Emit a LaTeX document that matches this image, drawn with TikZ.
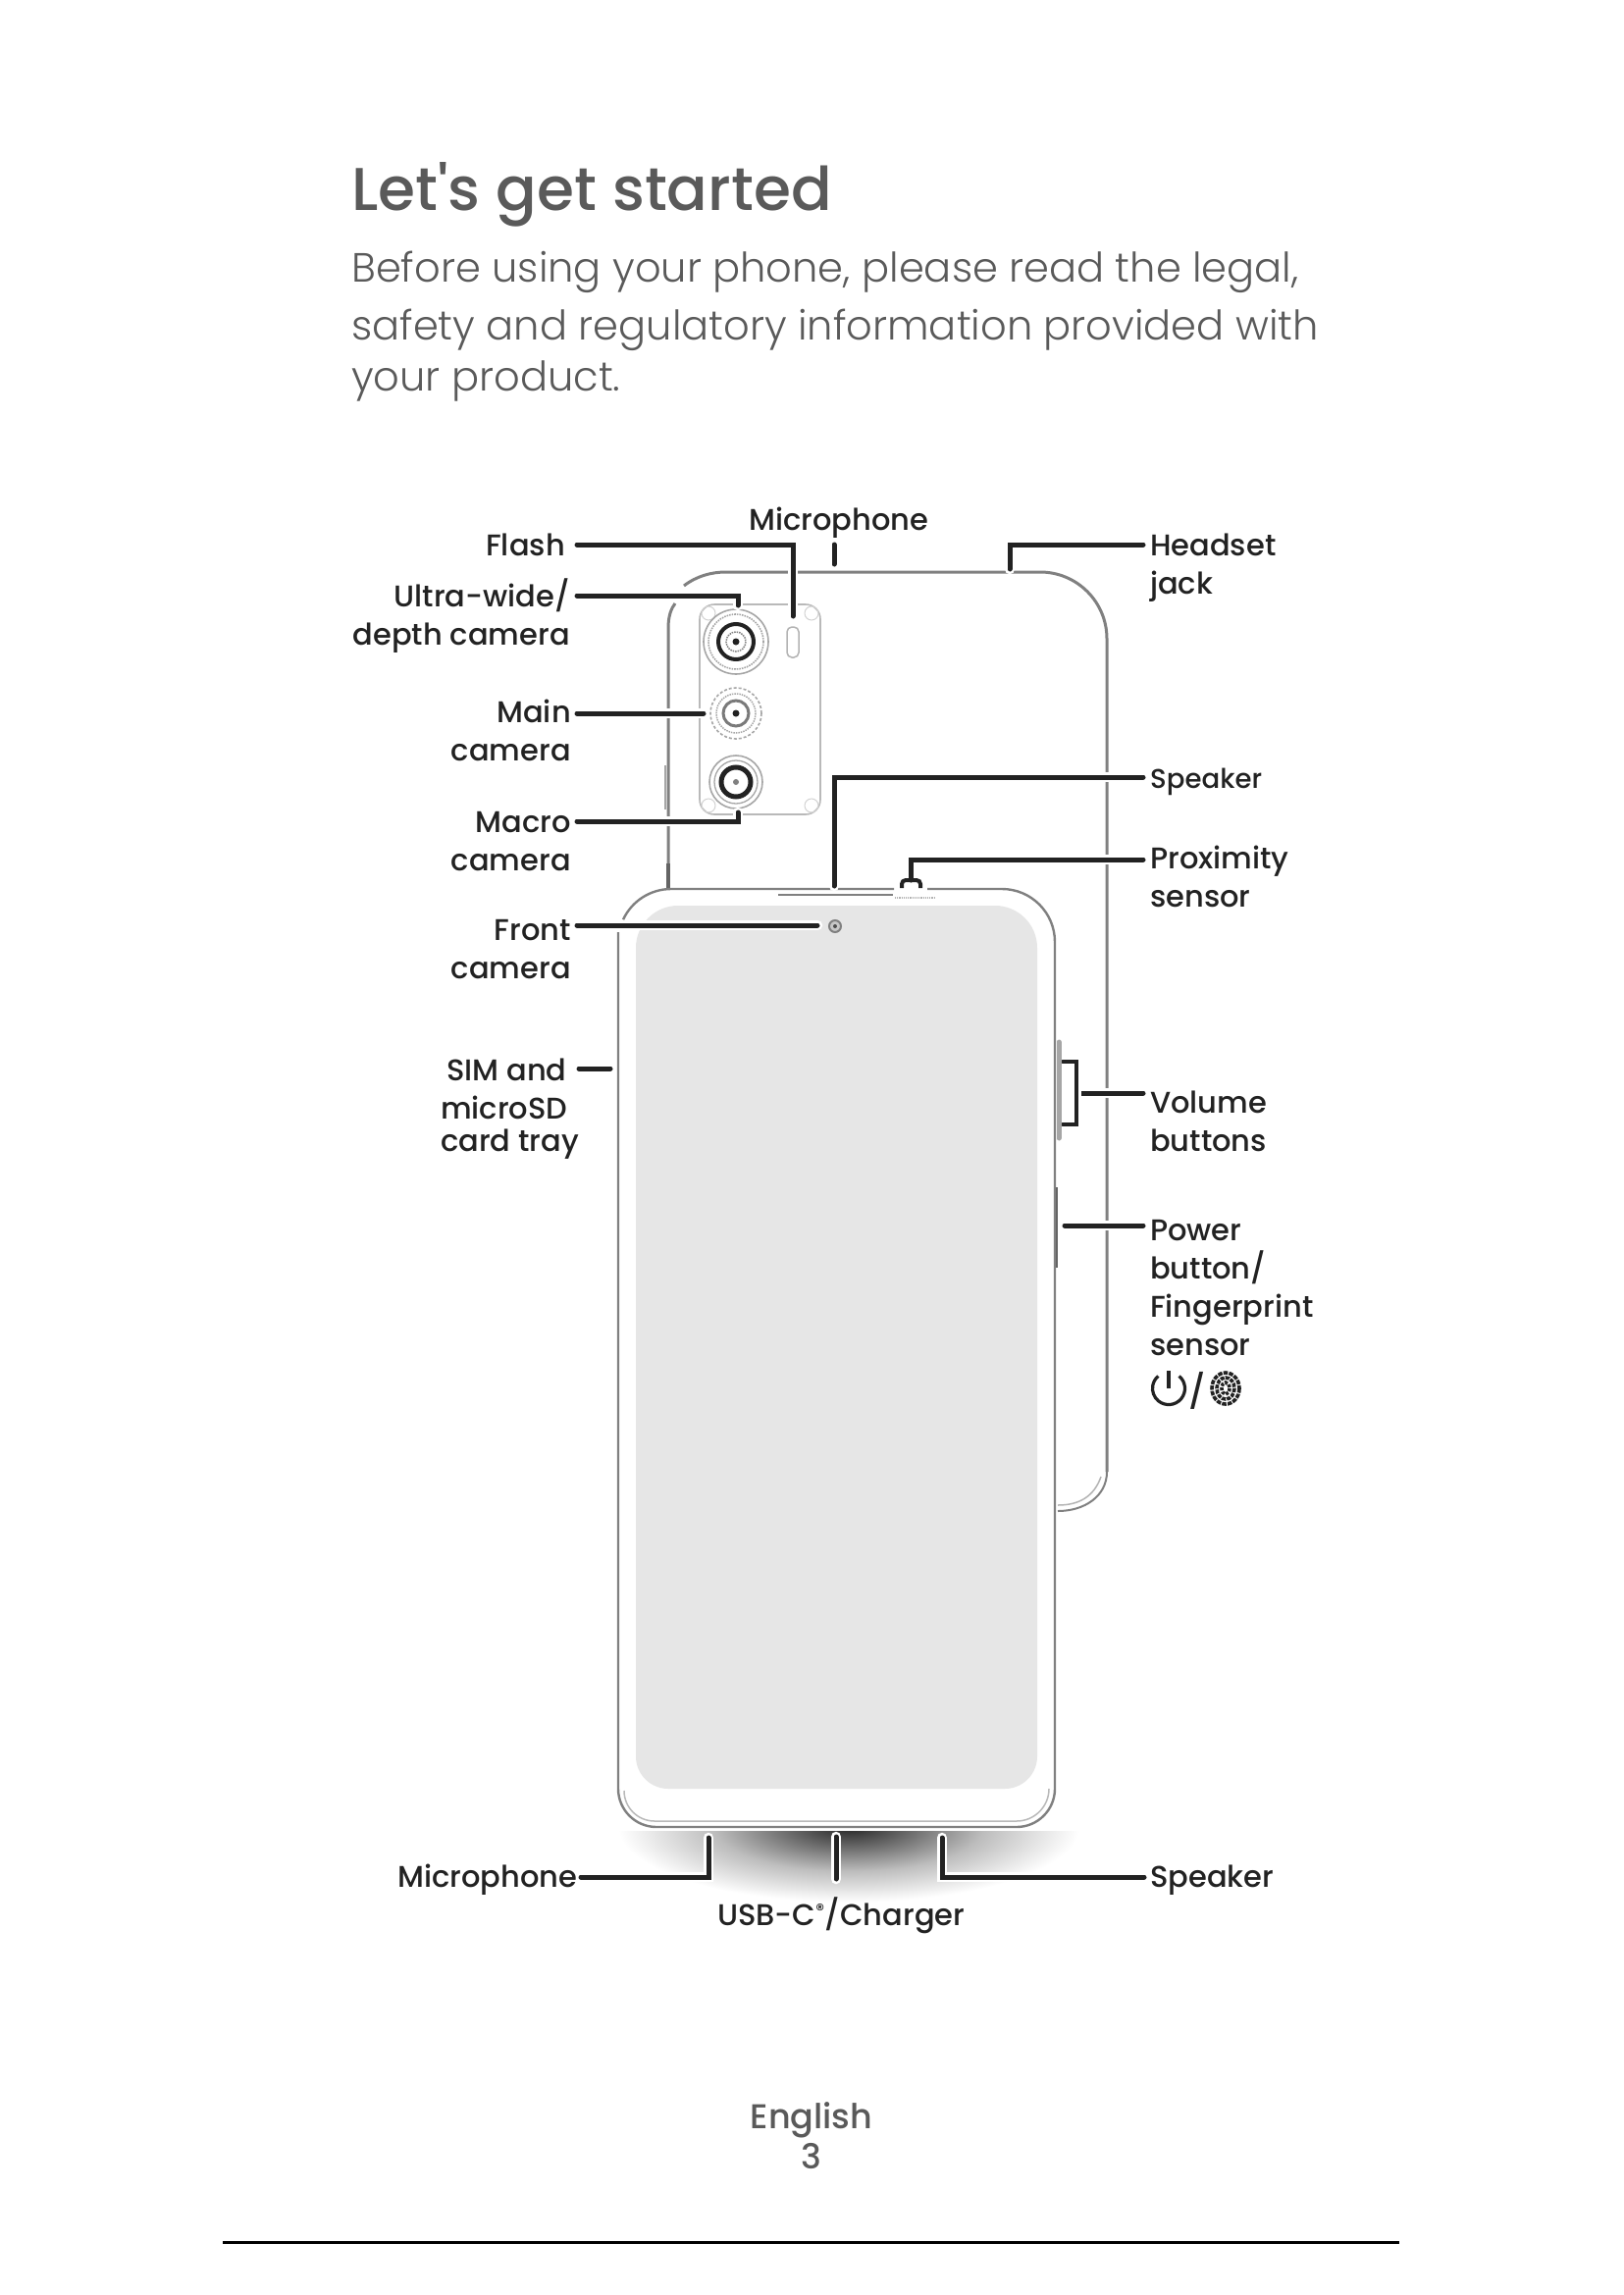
\documentclass[tikz,border=0pt]{standalone}
\usepackage{fontspec}
\setmainfont{Poppins Medium}
\newfontfamily\lightfont{Poppins Light}
\newfontfamily\medfont{Poppins Medium}
\usetikzlibrary{calc}
\definecolor{ink}{HTML}{222222}
\definecolor{soft}{HTML}{5A5A5A}
\definecolor{edge}{HTML}{808080}
\definecolor{panel}{HTML}{E6E6E6}
\pgfdeclareradialshading{glow}{\pgfpointorigin}{color(0bp)=(black!85);color(6bp)=(black!60);color(14bp)=(black!26);color(24bp)=(white);color(50bp)=(white)}
\tikzset{
 conn/.style={ink,line width=5pt,line cap=round,line join=miter,preaction={draw=white,line width=10.5pt,line cap=round}},
 outline/.style={edge,line width=3pt},
 thin line/.style={edge!70,line width=1.6pt},
 lab/.style={font=\fontsize{30.5}{39}\selectfont,text=ink,inner sep=0pt},
 ll/.style={lab,anchor=base east,align=right},
 rl/.style={lab,anchor=base west,align=left},
}
\begin{document}
\begin{tikzpicture}[x=1pt,y=-1pt]
\useasboundingbox (0,0) rectangle (1654,2339);
% heading
\node[anchor=base west,inner sep=0,font=\medfont\fontsize{61.5}{70}\selectfont,text=soft] (title) at (358,214) {Let's get started};
\node[anchor=base west,inner sep=0,align=left,font=\lightfont\fontsize{41.6}{52}\selectfont,text=soft] (intro) at (358,398) {Before using your phone, please read the legal,\\[7pt]safety and regulatory information provided with\\your product.};
% shadow
\begin{scope}
\clip (500,1866) rectangle (1230,1940);
\shade[shading=glow] (865,1862) ellipse [x radius=245,y radius=80];
\end{scope}
% back of phone
\draw[outline] (681,906) -- (681,640) .. controls (681,628) and (684,620) .. (688,615);
\draw[outline] (697,597) .. controls (710,587) and (725,583) .. (740,583) -- (1060,583) arc[start angle=-90,end angle=0,radius=68] -- (1128,1500);
\draw[edge,line width=2pt] (1128,1500) .. controls (1128,1525) and (1105,1540) .. (1078,1540);
\draw[edge!60,line width=1.5pt] (1122,1505) .. controls (1115,1525) and (1100,1534) .. (1078,1534);
\draw[ink!70,line width=4pt] (681,880) -- (681,905);
\draw[edge!70,line width=1.5pt] (678,780) -- (678,825);
% camera module
\draw[edge!55,line width=1.6pt] (728,616) -- (821,616) arc[start angle=-90,end angle=0,radius=15] -- (836,815) arc[start angle=0,end angle=90,radius=15] -- (728,830) arc[start angle=90,end angle=180,radius=15] -- (713,631) arc[start angle=180,end angle=270,radius=15] -- cycle;
\foreach \cx/\cy in {722/625,827/625,722/821,827/821}
  \draw[edge!35,line width=1pt] (\cx,\cy) circle (7);
\draw[thin line] (750,654) circle (33);
\draw[thin line,densely dotted] (750,654) circle (28);
\draw[ink,line width=4pt] (750,654) circle (18);
\draw[edge,line width=1.5pt,densely dotted] (750,654) circle (10);
\fill[ink] (750,654) circle (3.5);
\draw[thin line,densely dashed] (750,727) circle (26);
\draw[edge!70,line width=1.5pt,densely dotted] (750,727) circle (20);
\draw[ink!60,line width=3pt] (750,727) circle (13);
\fill[ink] (750,727) circle (3.5);
\draw[thin line] (750,797) circle (27);
\draw[edge!70,line width=1.3pt] (750,797) circle (22);
\draw[ink,line width=5pt] (750,797) circle (15);
\fill[edge] (750,797) circle (3);
\draw[edge!60,line width=1.5pt,rounded corners=5pt] (802,639) rectangle (814,670);
% front of phone
\path[fill=white] (630,950) -- (630,1823) arc[start angle=180,end angle=90,radius=39] -- (1036,1862) arc[start angle=90,end angle=0,radius=39] -- (1075,960) arc[start angle=0,end angle=-90,radius=54] -- (684,906) arc[start angle=-90,end angle=-180,radius=54] -- cycle;
\draw[outline,line width=2.4pt] (630,950) -- (630,1823) arc[start angle=180,end angle=90,radius=39] -- (1036,1862) arc[start angle=90,end angle=0,radius=39] -- (1075,960);
\draw[edge!55,line width=1.5pt] (636,1825) arc[start angle=180,end angle=90,radius=31] -- (1036,1856) arc[start angle=90,end angle=0,radius=33];
\draw[outline,line width=2.4pt] (1075,960) arc[start angle=0,end angle=-90,radius=54] -- (945,906);
\draw[outline,line width=2.4pt] (911,906) -- (684,906) arc[start angle=-90,end angle=-155,radius=54];
\draw[edge,line width=2pt] (793,912) -- (910,912);
\draw[edge,line width=2pt] (738,906) -- (840,906);
\draw[edge!60,line width=1.2pt,densely dotted] (912,915) -- (952,915);
% screen
\fill[panel] (648,966) arc[start angle=180,end angle=270,radius=43] -- (1014,923) arc[start angle=-90,end angle=0,radius=43] -- (1057,1790) arc[start angle=0,end angle=90,radius=33] -- (681,1823) arc[start angle=90,end angle=180,radius=33] -- cycle;
% front camera
\node[circle,draw=edge,fill=panel!70!edge,line width=2pt,minimum size=12pt,inner sep=0] (frontcam) at (851,944) {};
\fill[edge!60!black] (851,944) circle (2);
% connector ends
\coordinate (flashA) at (588,555); \coordinate (flashB) at (808,628);
\coordinate (ultraA) at (588,607); \coordinate (ultraB) at (752,617);
\coordinate (mainA) at (588,727); \coordinate (mainB) at (717,727);
\coordinate (macroA) at (588,837); \coordinate (macroB) at (752,828);
\coordinate (frontA) at (588,943); \coordinate (frontB) at (833,943);
\coordinate (simA) at (590,1089); \coordinate (simB) at (622,1089);
\coordinate (micA) at (850,555); \coordinate (micB) at (850,575);
\coordinate (spkA) at (1165,792); \coordinate (spkB) at (850,903);
\coordinate (jackA) at (1165,555); \coordinate (jackB) at (1029,580);
\coordinate (proxA) at (1165,876); \coordinate (proxB) at (928,897);
\coordinate (volA) at (1165,1114); \coordinate (volM) at (1097,1114);
\coordinate (volU) at (1083,1082); \coordinate (volD) at (1083,1146);
\coordinate (powA) at (1165,1249); \coordinate (powB) at (1085,1249);
\coordinate (bmicA) at (592,1913); \coordinate (bmicB) at (722,1873);
\coordinate (usbA) at (852,1872); \coordinate (usbB) at (852,1915);
\coordinate (bspkA) at (1166,1913); \coordinate (bspkB) at (960,1873);
% connectors
\draw[conn] (flashA) -| (flashB);
\draw[conn] (ultraA) -| (ultraB);
\draw[conn] (mainA) -- (mainB);
\draw[conn] (macroA) -| (macroB);
\draw[conn] (frontA) -- (frontB);
\draw[conn] (simA) -- (simB);
\draw[conn] (micA) -- (micB);
\draw[conn] (spkA) -| (spkB);
\draw[conn] (jackA) -| (jackB);
\draw[conn] (proxA) -| (proxB);
\draw[conn] (volA) -- (volM);
\draw[conn,line width=4pt] (volU) -| (volM) |- (volD);
\draw[conn] (powA) -- (powB);
\draw[conn] (bmicA) -| (bmicB);
\draw[conn] (usbA) -- (usbB);
\draw[conn] (bspkA) -| (bspkB);
% proximity sensor and side buttons
\draw[ink,line width=4pt,rounded corners=4pt] (919,905) -- (919,897) -- (938,897) -- (938,905);
\draw[edge!70,line width=5pt,line cap=round] (1079,1062) -- (1079,1160);
\draw[ink!70,line width=1.5pt] (1077,1210) -- (1077,1292);
% left labels
\node[ll] (lflash) at (576,566) {Flash};
\node[ll] (lultra) at (581,657) {Ultra-wide/\\depth camera};
\node[ll] (lmain) at (582,775) {Main\\camera};
\node[ll] (lmacro) at (582,887) {Macro\\camera};
\node[ll] (lfront) at (582,997) {Front\\camera};
\node[ll,align=left,anchor=base west] (lsim) at (449,1173) {\hspace*{6pt}SIM and\\microSD\\[-6pt]card tray};
\node[lab,anchor=base west] (lmic) at (763,540) {Microphone};
\node[lab,anchor=base west] (lbmic) at (405,1923) {Microphone};
\node[lab,anchor=base west] (lusb) at (731,1962) {USB-C\textsuperscript{\fontsize{17}{17}\selectfont®}/Charger};
% right labels
\node[rl] (ljack) at (1172,605) {Headset\\jack};
\node[rl,font=\fontsize{27.6}{35}\selectfont] (lspk) at (1172,803) {Speaker};
\node[rl] (lprox) at (1172,924) {Proximity\\sensor};
\node[rl] (lvol) at (1172,1173) {Volume\\buttons};
\node[rl] (lpow) at (1172,1381) {Power\\button/\\Fingerprint\\sensor};
\node[rl] (lbspk) at (1172,1923) {Speaker};
% power and fingerprint icons
\draw[ink,line width=3.2pt] (1201.6,1402.4) arc[start angle=-50,end angle=230,radius=16.5];
\draw[ink,line width=3.2pt] (1191,1397) -- (1191,1415);
\node[lab,anchor=base west,font=\fontsize{34}{40}\selectfont] (lslash) at (1211,1430) {/};
\begin{scope}[ink,line width=3.6pt,line cap=butt]
\draw[dash pattern=on 4.5pt off 1.2pt] (1249,1415) ellipse [x radius=14,y radius=16];
\draw[dash pattern=on 4pt off 1.2pt] (1249,1415) ellipse [x radius=9,y radius=11];
\draw[dash pattern=on 3pt off 1.5pt] (1249,1415) ellipse [x radius=4,y radius=6];
\end{scope}
% footer
\node[lab,anchor=base,align=center,text=soft,font=\fontsize{35}{41}\selectfont] (lfoot) at (827,2210) {English\\3};
\coordinate (ruleA) at (227,2285); \coordinate (ruleB) at (1426,2285);
\draw[black,line width=3pt] (ruleA) -- (ruleB);
\end{tikzpicture}
\end{document}
